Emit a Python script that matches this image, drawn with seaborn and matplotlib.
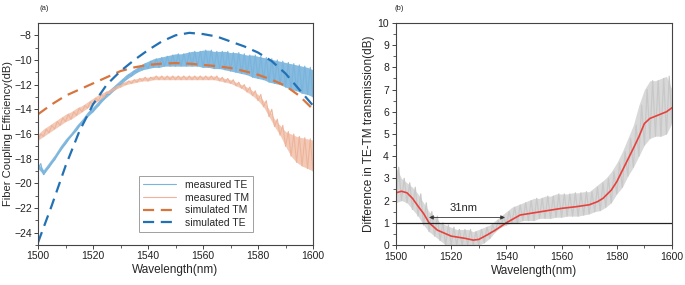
import numpy as np
import pandas as pd
import matplotlib
matplotlib.use("Agg")
import matplotlib.pyplot as plt
import seaborn as sns

# %% data ----------------------------------------------------------------
# wavelength grid for the measured (rippled) curves, 2 nm step
wl = np.arange(1500, 1601, 2)

te_lo = [-18.8, -19.3, -18.7, -18.1, -17.4, -16.8, -16.2, -15.7, -15.1, -14.6,
         -14.2, -13.7, -13.2, -12.8, -12.4, -12.0, -11.6, -11.3, -11.0, -10.8,
         -10.7, -10.6, -10.6, -10.5, -10.5, -10.5, -10.5, -10.5, -10.5, -10.5,
         -10.6, -10.6, -10.7, -10.7, -10.8, -10.9, -11.0, -11.1, -11.2, -11.4,
         -11.5, -11.6, -11.8, -11.9, -12.0, -12.2, -12.4, -12.5, -12.7, -12.8, -13.0]
te_hi = [-18.4, -18.9, -18.3, -17.7, -17.0, -16.4, -15.9, -15.3, -14.8, -14.2,
         -13.8, -13.3, -12.8, -12.4, -12.0, -11.6, -11.2, -10.9, -10.6, -10.3,
         -10.1, -9.9, -9.8, -9.7, -9.6, -9.5, -9.5, -9.4, -9.3, -9.3,
         -9.2, -9.2, -9.3, -9.3, -9.3, -9.4, -9.4, -9.5, -9.6, -9.6,
         -9.7, -9.8, -9.9, -10.0, -10.1, -10.2, -10.3, -10.4, -10.5, -10.6, -10.8]

tm_lo = [-16.5, -16.2, -15.9, -15.6, -15.3, -15.0, -14.8, -14.5, -14.2, -13.9,
         -13.6, -13.3, -13.0, -12.7, -12.4, -12.2, -12.0, -11.9, -11.8, -11.7,
         -11.7, -11.6, -11.6, -11.6, -11.6, -11.6, -11.6, -11.6, -11.6, -11.6,
         -11.6, -11.6, -11.6, -11.7, -11.8, -11.9, -12.1, -12.3, -12.6, -12.9,
         -13.3, -13.8, -14.6, -15.4, -16.1, -17.0, -17.8, -18.3, -18.6, -18.8, -19.0]
tm_hi = [-16.0, -15.6, -15.3, -15.0, -14.7, -14.4, -14.2, -13.9, -13.7, -13.4,
         -13.1, -12.8, -12.6, -12.4, -12.1, -11.9, -11.7, -11.6, -11.5, -11.4,
         -11.4, -11.3, -11.3, -11.3, -11.3, -11.3, -11.3, -11.3, -11.3, -11.3,
         -11.3, -11.3, -11.3, -11.4, -11.5, -11.6, -11.8, -12.0, -12.2, -12.5,
         -12.8, -13.3, -14.0, -14.8, -15.3, -15.8, -16.0, -16.2, -16.3, -16.4, -16.5]

# simulated curves, 5 nm step
wl_sim = np.arange(1500, 1601, 5)
sim_te = [-24.8, -21.8, -18.6, -15.8, -13.6, -12.0, -10.9, -10.0, -9.2, -8.5, -8.0,
          -7.8, -7.9, -8.1, -8.5, -8.9, -9.4, -10.1, -11.1, -12.4, -13.7]
sim_tm = [-14.4, -13.6, -12.9, -12.4, -11.9, -11.4, -10.9, -10.6, -10.4, -10.3, -10.25,
          -10.3, -10.4, -10.5, -10.65, -10.9, -11.2, -11.6, -12.1, -12.9, -14.0]

# (b) TE-TM difference: raw band envelope and smoothed curve
diff_lo = [1.9, 2.0, 1.9, 1.6, 1.3, 0.9, 0.6, 0.4, 0.2, 0.0,
           0.0, 0.0, 0.0, 0.0, 0.0, 0.0, 0.1, 0.3, 0.6, 0.8,
           0.9, 1.0, 1.0, 1.1, 1.1, 1.1, 1.2, 1.2, 1.2, 1.25,
           1.25, 1.3, 1.3, 1.3, 1.35, 1.4, 1.5, 1.55, 1.7, 1.9,
           2.3, 2.6, 3.1, 3.5, 4.0, 4.5, 4.8, 4.9, 4.9, 5.0, 5.5]
diff_hi = [3.5, 3.0, 2.8, 2.6, 2.3, 1.9, 1.5, 1.3, 1.0, 0.9,
           0.8, 0.7, 0.7, 0.7, 0.6, 0.7, 0.8, 0.9, 1.1, 1.3,
           1.5, 1.7, 1.8, 1.9, 2.0, 2.1, 2.1, 2.2, 2.2, 2.3,
           2.3, 2.3, 2.35, 2.35, 2.4, 2.4, 2.6, 2.8, 3.0, 3.3,
           3.7, 4.2, 4.8, 5.4, 6.3, 7.0, 7.4, 7.4, 7.5, 7.6, 7.0]

wl_fit = [1500, 1502, 1504, 1506, 1508, 1510, 1512, 1515, 1520, 1525, 1528, 1530,
          1533, 1536, 1540, 1545, 1550, 1555, 1560, 1565, 1570, 1573, 1575, 1578,
          1580, 1583, 1586, 1588, 1590, 1592, 1595, 1598, 1600]
diff_fit = [2.35, 2.42, 2.35, 2.1, 1.75, 1.42, 1.0, 0.67, 0.4, 0.3, 0.22, 0.25,
            0.45, 0.67, 1.0, 1.35, 1.45, 1.55, 1.65, 1.72, 1.81, 1.95, 2.1, 2.47,
            2.85, 3.6, 4.35, 4.87, 5.47, 5.7, 5.85, 6.0, 6.18]

# %% style ---------------------------------------------------------------
sns.set_theme(style="ticks")
plt.rcParams['font.family'] = ['Liberation Sans', 'DejaVu Sans']
plt.rcParams['axes.edgecolor'] = '#444444'
plt.rcParams['xtick.color'] = '#444444'
plt.rcParams['ytick.color'] = '#444444'
plt.rcParams['xtick.labelcolor'] = '#222222'
plt.rcParams['ytick.labelcolor'] = '#222222'

c_te_meas = '#7ab4dc'
c_tm_meas = '#eeb49a'
c_tm_sim = '#d8753f'
c_te_sim = '#2371b5'


def zigzag(x, lo, hi):
    # ripple: alternate lower / upper envelope points
    xs = np.ravel(np.column_stack([x, np.asarray(x) + 1]))
    ys = np.ravel(np.column_stack([lo, hi]))
    return xs, ys


fig = plt.figure(figsize=(6.85, 2.85), dpi=100)
ax1 = fig.add_axes([0.0555, 0.1404, 0.4015, 0.779])
ax2 = fig.add_axes([0.578, 0.1404, 0.403, 0.779])

# %% (a) coupling efficiency ---------------------------------------------
ax1.fill_between(wl, te_lo, te_hi, color=c_te_meas, lw=0, alpha=0.9)
x, y = zigzag(wl, te_lo, te_hi)
ax1.plot(x, y, color=c_te_meas, lw=0.8, label='measured TE')

ax1.fill_between(wl, tm_lo, tm_hi, color=c_tm_meas, lw=0, alpha=0.7)
x, y = zigzag(wl, tm_lo, tm_hi)
ax1.plot(x, y, color=c_tm_meas, lw=0.8, label='measured TM')

sim_df = pd.DataFrame({'wl': np.concatenate([wl_sim, wl_sim]),
                       'val': np.concatenate([sim_tm, sim_te]),
                       'kind': ['simulated TM'] * len(wl_sim) + ['simulated TE'] * len(wl_sim)})
sns.lineplot(data=sim_df, x='wl', y='val', hue='kind', style='kind',
             palette={'simulated TM': c_tm_sim, 'simulated TE': c_te_sim},
             dashes={'simulated TM': (5, 3), 'simulated TE': (5, 3)},
             lw=1.6, ax=ax1)

ax1.set_xlim(1500, 1600)
ax1.set_ylim(-25, -7)
ax1.set_xticks(range(1500, 1601, 20))
ax1.set_xticks(range(1510, 1600, 20), minor=True)
ax1.set_yticks(range(-24, -7, 2))
ax1.set_yticks(np.arange(-25, -7, 1), minor=True)
ax1.set_xlabel('Wavelength(nm)', fontsize=8.5, labelpad=2)
ax1.set_ylabel('Fiber Coupling Efficiency(dB)', fontsize=8, labelpad=1)
ax1.tick_params(labelsize=7.5, length=3, width=0.7, pad=1.5)
ax1.tick_params(which='minor', length=2, width=0.6)
leg = ax1.legend(loc='lower right', bbox_to_anchor=(0.8, 0.035), fontsize=7.5,
                 handlelength=3.2, borderpad=0.4, labelspacing=0.25,
                 fancybox=False, frameon=True, edgecolor='#888888')
leg.get_frame().set_linewidth(0.7)
ax1.text(0.005, 1.06, '(a)', transform=ax1.transAxes, fontsize=5.5)

# %% (b) TE-TM difference ------------------------------------------------
ax2.fill_between(wl, diff_lo, diff_hi, color='#cccccc', lw=0, alpha=0.75)
x, y = zigzag(wl, diff_lo, diff_hi)
ax2.plot(x, y, color='#c8c8c8', lw=0.9)
sns.lineplot(x=wl_fit, y=diff_fit, color='#e8413c', lw=1.2, ax=ax2)
ax2.axhline(1, color='#222222', lw=0.9)
ax2.annotate('', xy=(1512, 1.24), xytext=(1539.5, 1.24),
             arrowprops=dict(arrowstyle='<|-|>', color='#333333', lw=0.6,
                             mutation_scale=6, shrinkA=0, shrinkB=0))
ax2.text(1524.5, 1.42, '31nm', ha='center', va='bottom', fontsize=8)

ax2.set_xlim(1500, 1600)
ax2.set_ylim(0, 10)
ax2.set_xticks(range(1500, 1601, 20))
ax2.set_xticks(range(1510, 1600, 20), minor=True)
ax2.set_yticks(range(0, 11, 1))
ax2.set_yticks(np.arange(0.5, 10, 1), minor=True)
ax2.set_xlabel('Wavelength(nm)', fontsize=8.5, labelpad=2)
ax2.set_ylabel('Difference in TE-TM transmission(dB)', fontsize=8.5, labelpad=2)
ax2.tick_params(labelsize=7.5, length=3, width=0.7, pad=2)
ax2.tick_params(which='minor', length=2, width=0.6)
ax2.text(-0.005, 1.06, '(b)', transform=ax2.transAxes, fontsize=5.5)

for ax in (ax1, ax2):
    for sp in ax.spines.values():
        sp.set_linewidth(0.8)

fig.savefig('out.png', dpi=100)
